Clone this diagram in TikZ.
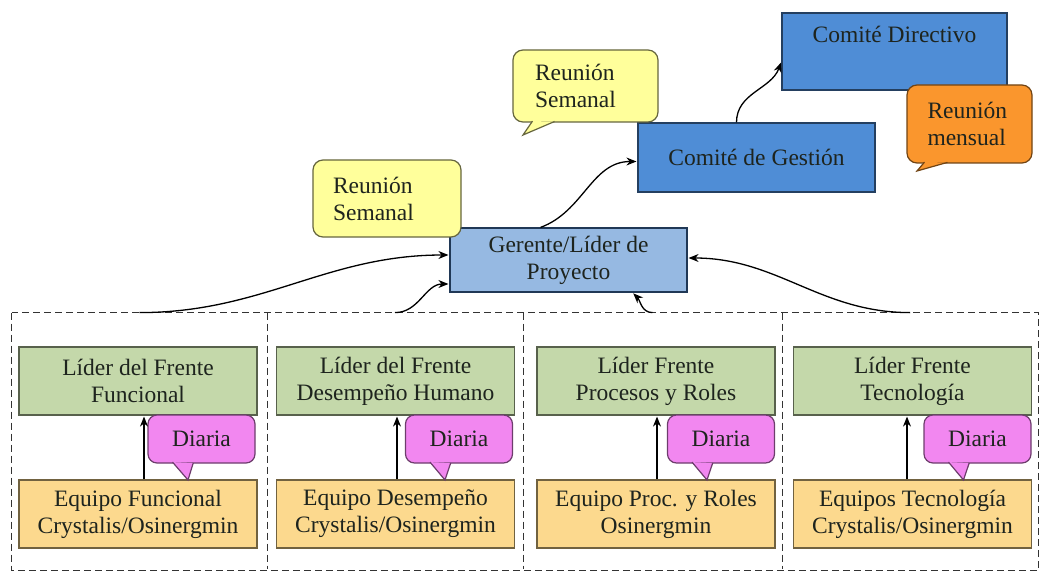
\documentclass[tikz,border=0pt]{standalone}
\usepackage{fontspec}
\setmainfont{Liberation Serif}
\usetikzlibrary{arrows.meta}

\definecolor{comite}{RGB}{79,141,214}
\definecolor{gerente}{RGB}{150,185,226}
\definecolor{lider}{RGB}{196,216,170}
\definecolor{equipo}{RGB}{252,217,142}
\definecolor{reunion}{RGB}{255,255,155}
\definecolor{mensual}{RGB}{250,150,45}
\definecolor{diaria}{RGB}{242,135,240}
\definecolor{tinta}{RGB}{30,36,30}

\begin{document}
\begin{tikzpicture}[x=1pt,y=-1pt,->,>={Stealth[length=10pt,width=8pt]},shorten >=1pt,thick,
    every node/.style={font=\fontsize{23.5}{27}\selectfont,text=tinta},
    box node/.style={rectangle,draw,line width=1.2pt,inner sep=0pt,align=center},
    comite node/.style={box node,fill=comite,draw=comite!45!black},
    gerente node/.style={box node,fill=gerente,draw=comite!40!black},
    lider node/.style={box node,fill=lider,draw=lider!45!black,minimum width=238pt,minimum height=68pt},
    equipo node/.style={box node,fill=equipo,draw=equipo!45!black,minimum width=238pt,minimum height=68pt},
    reunion node/.style={box node,rounded corners=10pt,align=left},
    diaria node/.style={box node,rounded corners=9pt,fill=diaria,draw=diaria!45!black,minimum width=107pt,minimum height=48pt},
    grupo node/.style={rectangle,draw=none,inner sep=0pt,minimum height=257pt},
    grupo line/.style={-,draw=black!80,line width=1.1pt,dash pattern=on 7pt off 4pt},
    tail/.style={-,line width=1.2pt,line join=miter}]

  \useasboundingbox (0,0) rectangle (1039,572);

  % frentes
  \node[grupo node,minimum width=255pt] (grp1) at (139.5,441.5) {};
  \node[grupo node,minimum width=256pt] (grp2) at (395,441.5) {};
  \node[grupo node,minimum width=259pt] (grp3) at (652.5,441.5) {};
  \node[grupo node,minimum width=256pt] (grp4) at (910,441.5) {};
  \draw[grupo line] (grp1.north west) rectangle (grp4.south east);
  \draw[grupo line] (grp1.north east) -- (grp1.south east);
  \draw[grupo line] (grp2.north east) -- (grp2.south east);
  \draw[grupo line] (grp3.north east) -- (grp3.south east);

  % comites
  \node[comite node,minimum width=225pt,minimum height=77pt] (dir) at (894.5,51.5) {Comité Directivo\\\strut};
  \node[comite node,minimum width=237pt,minimum height=69pt] (ges) at (756.5,157.5) {Comité de Gestión};
  \node[gerente node,minimum width=237pt,minimum height=64pt] (ger) at (568.5,260) {Gerente/Líder de\\Proyecto};

  % reuniones
  \node[reunion node,fill=reunion,draw=reunion!40!black,minimum width=148pt,minimum height=77pt,text width=108pt] (rs1) at (387,198.5) {Reunión\\Semanal};
  \node[reunion node,fill=reunion,draw=reunion!40!black,minimum width=145pt,minimum height=72pt,text width=101pt] (rs2) at (585.5,86) {Reunión\\Semanal};
  \node[reunion node,fill=mensual,draw=mensual!45!black,minimum width=125pt,minimum height=78pt,text width=84pt] (rm) at (969.5,124) {Reunión\\mensual};
  \coordinate (trs2) at (523,135);
  \coordinate (trm) at (917,171);
  \filldraw[tail,fill=reunion,draw=reunion!40!black] ([xshift=-53pt,yshift=1.5pt]rs2.south) -- (trs2) -- ([xshift=-30pt,yshift=1.5pt]rs2.south);
  \filldraw[tail,fill=mensual,draw=mensual!45!black] ([xshift=-45pt,yshift=1.5pt]rm.south) -- (trm) -- ([xshift=-21pt,yshift=1.5pt]rm.south);

  % lideres y equipos
  \node[lider node] (l1) at (138,381) {Líder del Frente\\Funcional};
  \node[lider node] (l2) at (395.5,381) {Líder del Frente\\Desempeño Humano};
  \node[lider node] (l3) at (656,381) {Líder Frente\\Procesos y Roles};
  \node[lider node] (l4) at (912.5,381) {Líder Frente\\Tecnología};

  \node[equipo node] (e1) at (138,514) {Equipo Funcional\\Crystalis/Osinergmin};
  \node[equipo node] (e2) at (395.5,514) {Equipo Desempeño\\Crystalis/Osinergmin};
  \node[equipo node] (e3) at (656,514) {Equipo Proc. y Roles\\Osinergmin};
  \node[equipo node] (e4) at (912.5,514) {Equipos Tecnología\\Crystalis/Osinergmin};

  \node[diaria node] (d1) at (201.5,439) {Diaria};
  \node[diaria node] (d2) at (459,439) {Diaria};
  \node[diaria node] (d3) at (721,439) {Diaria};
  \node[diaria node] (d4) at (977.5,439) {Diaria};
  \coordinate (t1) at (188,480);
  \coordinate (t2) at (445,480);
  \coordinate (t3) at (707,480);
  \coordinate (t4) at (963.5,480);
  \foreach \i in {1,2,3,4}
    \filldraw[tail,fill=diaria,draw=diaria!45!black] ([xshift=-29pt,yshift=1.5pt]d\i.south) -- (t\i) -- ([xshift=-8pt,yshift=1.5pt]d\i.south);

  \path[line width=1.3pt]
    ([xshift=6pt]e1.north) edge ([xshift=6pt]l1.south)
    ([xshift=1.5pt]e2.north) edge ([xshift=1.5pt]l2.south)
    ([xshift=1pt]e3.north) edge ([xshift=1pt]l3.south)
    ([xshift=-5.5pt]e4.north) edge ([xshift=-5.5pt]l4.south)

    (grp1.north) edge [out=0,in=180] ([yshift=5pt]ger.west)
    (grp2.north) edge [out=0,in=180] ([yshift=-24pt]ger.west)
    (grp3.north) edge [out=180,in=-45] ([xshift=64pt]ger.south)
    (grp4.north) edge [out=180,in=0] ([yshift=2pt]ger.east)

    ([xshift=-28pt]ger.north) edge [out=20,in=180] ([yshift=-4pt]ges.west)
    ([xshift=-20pt]ges.north) edge [out=90,in=250] ([yshift=-10pt]dir.west)
;
\end{tikzpicture}
\end{document}
